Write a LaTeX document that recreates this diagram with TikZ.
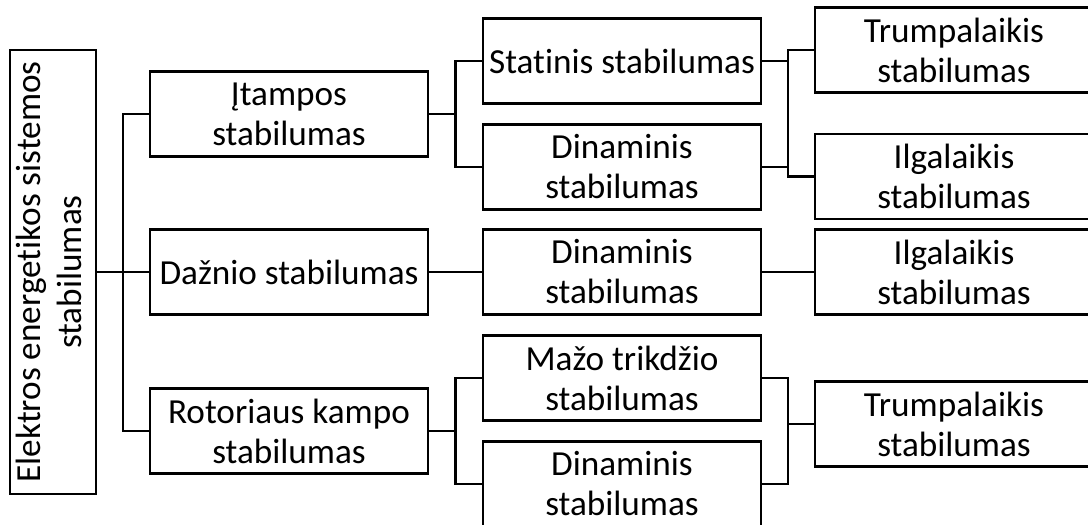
\documentclass[tikz,border=0pt]{standalone}
\usepackage{fontspec}
\setmainfont{Carlito}[Ligatures=NoCommon]
\usetikzlibrary{positioning, calc}

\begin{document}
\begin{tikzpicture}[
        node distance=27pt,
        box/.style={rectangle, draw, line width=1.1pt, outer sep=0pt, minimum width=139pt, minimum height=42.5pt, align=center, inner sep=1pt, font=\fontsize{17.6}{20}\selectfont},
        rootbox/.style={rectangle, draw, line width=1.1pt, outer sep=0pt, minimum width=43pt, minimum height=222pt, inner sep=0pt, font=\fontsize{17.6}{20}\selectfont},
        line/.style={draw, line width=1.1pt}
    ]
        \useasboundingbox (0,0) rectangle (544pt,-262.5pt);
        \clip (0,0) rectangle (544pt,-262.5pt);

        \node [rootbox] (root) at (26.5pt,-136pt) {\rotatebox{90}{\begin{tabular}{@{}c@{}}Elektros energetikos sistemos\\stabilumas\end{tabular}}};
        \node [box, right=27pt of root] (dazn) {Dažnio stabilumas};
        \node [box, above=36.5pt of dazn] (itamp) {Įtampos\\stabilumas};
        \node [box, below=37pt of dazn] (rotor) {Rotoriaus kampo\\stabilumas};

        \node [box, right=27.5pt of itamp, yshift=26.5pt] (statin) {Statinis stabilumas};
        \node [box, right=27.5pt of itamp, yshift=-26.5pt] (dinam1) {Dinaminis\\stabilumas};
        \node [box, right=27.5pt of dazn] (dinam2) {Dinaminis\\stabilumas};
        \node [box, right=27.5pt of rotor, yshift=26.5pt] (mazo) {Mažo trikdžio\\stabilumas};
        \node [box, right=27.5pt of rotor, yshift=-26.5pt] (dinam3) {Dinaminis\\stabilumas};

        \node [box, right=27pt of statin, yshift=5.5pt] (trump1) {Trumpalaikis\\stabilumas};
        \node [box, right=27pt of dinam1, yshift=-4.75pt] (ilg1) {Ilgalaikis\\stabilumas};
        \node [box, right=27pt of dinam2] (ilg2) {Ilgalaikis\\stabilumas};
        \node [box, right=27pt of mazo, yshift=-23pt] (trump2) {Trumpalaikis\\stabilumas};

        \coordinate (b0) at ($(root.east)!0.5!(dazn.west)$);
        \coordinate (b1) at ($(itamp.east)!0.5!(itamp.east -| statin.west)$);
        \coordinate (b2) at ($(statin.east)!0.5!(statin.east -| trump1.west)$);
        \coordinate (b3) at ($(rotor.east)!0.5!(rotor.east -| mazo.west)$);
        \coordinate (b4) at ($(trump2.west)!0.5!(trump2.west -| mazo.east)$);

        \path [line] (root) -- (dazn);
        \path [line] (itamp.west) -| (b0) |- (rotor.west);
        \path [line] (itamp.east) -- (b1);
        \path [line] (statin.west) -| (b1) |- (dinam1.west);
        \path [line] (statin.east) -- (b2);
        \path [line] (dinam1.east) -- (dinam1.east -| b2);
        \path [line] (trump1.west) -| (b2) |- (ilg1.west);
        \path [line] (dazn) -- (dinam2);
        \path [line] (dinam2) -- (ilg2);
        \path [line] (rotor.east) -- (b3);
        \path [line] (mazo.west) -| (b3) |- (dinam3.west);
        \path [line] (mazo.east) -| (b4) |- (dinam3.east);
        \path [line] (b4) -- (trump2.west);
    \end{tikzpicture}
\end{document}
